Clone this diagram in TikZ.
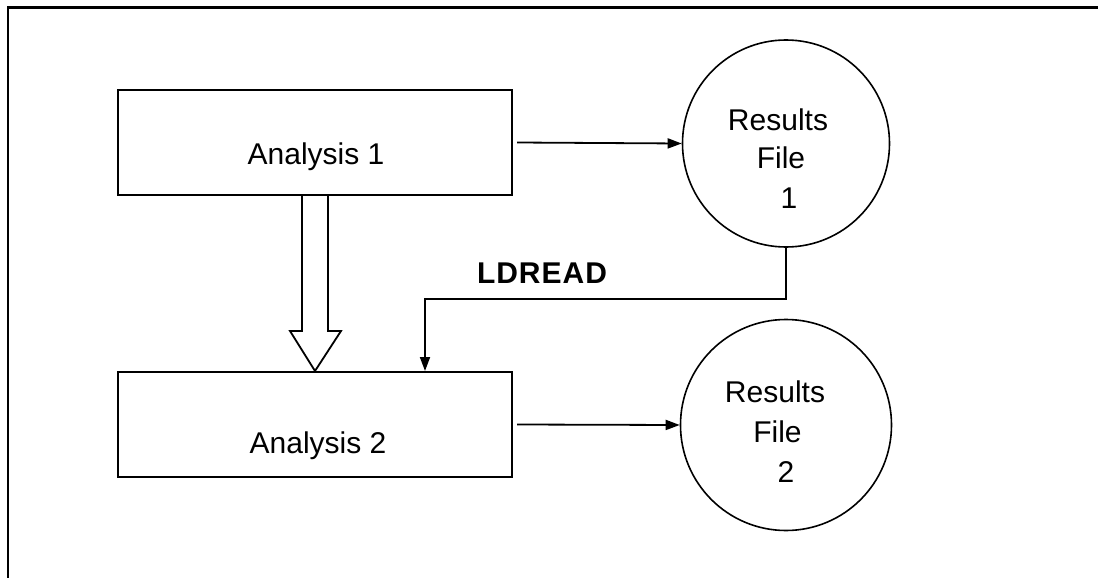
\documentclass[tikz,border=0pt]{standalone}
\usepackage{fontspec}
\setmainfont{Liberation Sans}
\usetikzlibrary{arrows.meta,calc}
\begin{document}
\begin{tikzpicture}[x=1pt,y=-1pt,
  every node/.style={font=\fontsize{30}{36}\selectfont},
  box/.style={draw,line width=2pt,rectangle,minimum width=394pt,minimum height=105pt,inner sep=0pt},
  file/.style={draw,line width=1.6pt,circle,inner sep=0pt},
  lbl/.style={anchor=base,inner sep=0pt},
  flow/.style={line width=1.8pt,-{Triangle[length=14pt,width=10pt]}},
  frame/.style={line width=2.8pt}]
\useasboundingbox (0,0) rectangle (1098,578);
% frame
\draw[frame] (1100,7.5) -- (8,7.5) -- (8,580);
% process boxes
\node[box] (a1) at (315,142.5) {};
\node[box] (a2) at (315,424.5) {};
\node[lbl] (t1) at (316,164) {Analysis 1};
\node[lbl] (t2) at (318,453) {Analysis 2};
% results files
\node[file,minimum size=207pt] (r1) at (786,143.5) {};
\node[file,minimum size=211pt] (r2) at (786,425) {};
\node[lbl] (r1a) at (778,130) {Results};
\node[lbl] (r1b) at (781,168) {File};
\node[lbl] (r1c) at (789,208) {1};
\node[lbl] (r2a) at (775,402) {Results};
\node[lbl] (r2b) at (777.5,442) {File};
\node[lbl] (r2c) at (786,482) {2};
% outputs
\draw[flow] ($(a1.east)+(4,0)$) -- (r1.west);
\draw[flow] ($(a2.east)+(4,0)$) -- (r2.west);
% restart read
\draw[flow] (r1.south) -- ++(0,51) -| ($(a2.north)+(110,0)$);
\node[lbl,font=\fontsize{30}{36}\selectfont\bfseries] (ld) at (542,283) {L\kern1ptD\kern1ptR\kern1ptE\kern1ptA\kern1ptD};
% sequence arrow
\draw[line width=1.8pt,fill=white]
  ($(a1.south)+(-13,0)$) -- ($(a1.south)+(-13,135)$) -- ($(a1.south)+(-25,135)$)
  -- (a2.north) -- ($(a1.south)+(26,135)$) -- ($(a1.south)+(13,135)$)
  -- ($(a1.south)+(13,0)$);
\end{tikzpicture}
\end{document}
